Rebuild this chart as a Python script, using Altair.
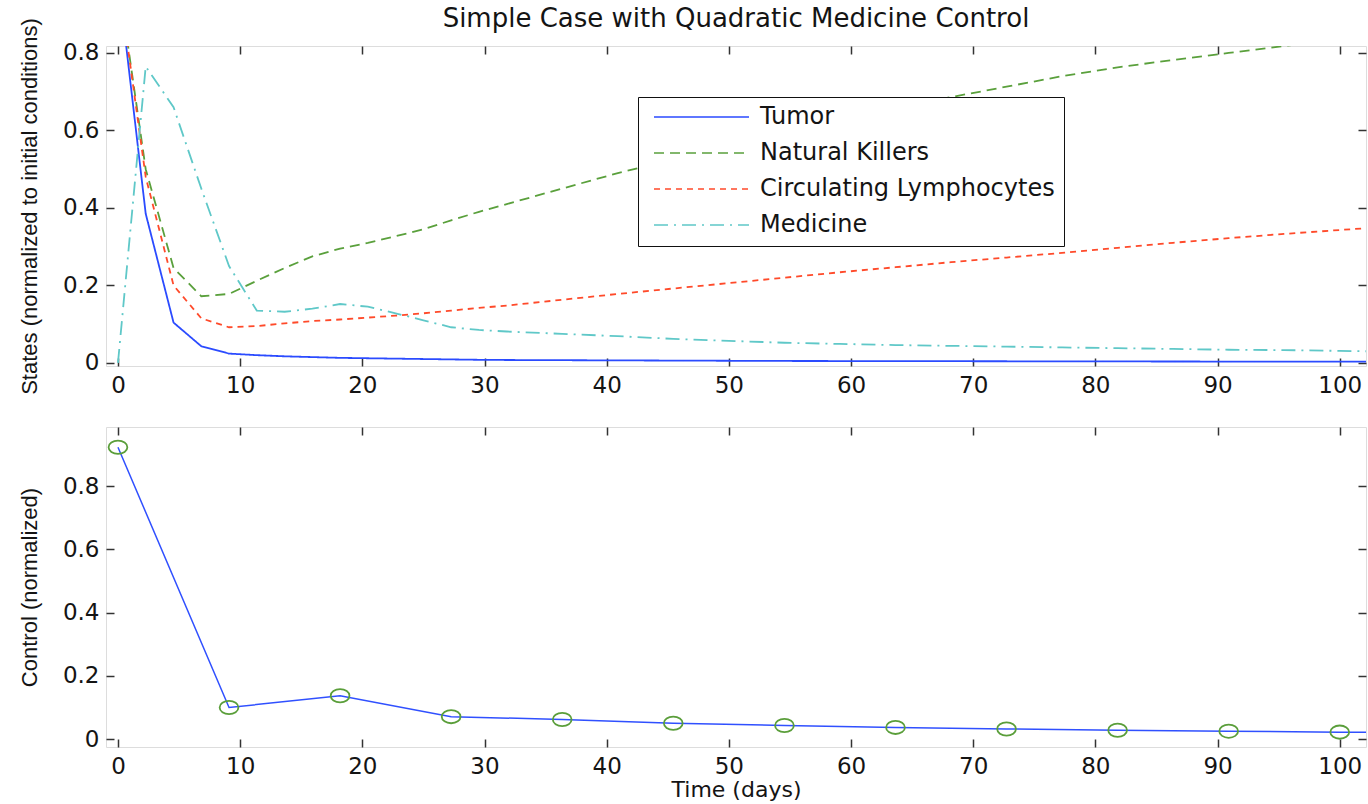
import altair as alt
import pandas as pd

# ---- state trajectories (normalized to initial conditions) ----
state_days = [0.0, 2.27, 4.55, 6.82, 9.09, 11.36, 13.64, 15.91, 18.18, 20.45,
              22.73, 25.0, 27.27, 29.55, 31.82, 36.36, 40.91, 45.45, 50.0, 54.55,
              59.09, 63.64, 68.18, 72.73, 77.27, 81.82, 86.36, 90.91, 95.45, 100.0,
              102.27]
tumor = [1.0, 0.385, 0.104, 0.043, 0.024, 0.020, 0.017, 0.015, 0.013, 0.012,
         0.011, 0.010, 0.009, 0.008, 0.0075, 0.007, 0.0065, 0.006, 0.0055, 0.005,
         0.0048, 0.0046, 0.0044, 0.0042, 0.004, 0.0038, 0.0036, 0.0035, 0.0034, 0.0033,
         0.0032]
natural_killers = [1.0, 0.50, 0.245, 0.172, 0.178, 0.212, 0.245, 0.275, 0.295, 0.31,
                   0.327, 0.345, 0.368, 0.39, 0.41, 0.45, 0.49, 0.525, 0.56, 0.595,
                   0.627, 0.658, 0.686, 0.713, 0.74, 0.763, 0.782, 0.80, 0.818, 0.835,
                   0.843]
lymphocytes = [1.0, 0.48, 0.20, 0.115, 0.092, 0.095, 0.102, 0.108, 0.112, 0.117,
               0.122, 0.128, 0.135, 0.142, 0.148, 0.163, 0.178, 0.192, 0.206, 0.22,
               0.234, 0.247, 0.26, 0.272, 0.284, 0.297, 0.31, 0.322, 0.333, 0.343,
               0.348]
medicine = [0.0, 0.765, 0.66, 0.45, 0.25, 0.135, 0.132, 0.14, 0.152, 0.145,
            0.128, 0.11, 0.092, 0.085, 0.081, 0.075, 0.069, 0.062, 0.057, 0.052,
            0.049, 0.046, 0.044, 0.042, 0.040, 0.038, 0.036, 0.034, 0.033, 0.031,
            0.030]

series_names = ["Tumor", "Natural Killers", "Circulating Lymphocytes", "Medicine"]
series_colors = ["#2b4bff", "#5aa03c", "#ff4a2a", "#5fc8c8"]
series_dashes = [[1, 0], [10, 6], [6, 5], [14, 6, 2, 6]]

# ---- control schedule ----
control_days = [0.0, 9.09, 18.18, 27.27, 36.36, 45.45, 54.55, 63.64, 72.73,
                81.82, 90.91, 100.0]
control = [0.923, 0.100, 0.137, 0.071, 0.062, 0.050, 0.043, 0.037, 0.032,
           0.028, 0.025, 0.022]
control_line_days = control_days + [102.27]
control_line = control + [0.0215]

x_ticks = list(range(0, 101, 10))
y_ticks = [0, 0.2, 0.4, 0.6, 0.8]

AX = "#333333"
TXT = "#141414"
FONT_H = "DejaVu Sans"
FONT_V = "Liberation Sans"

states = pd.DataFrame(
    [
        {"day": t, "value": v, "series": name}
        for name, vals in zip(series_names, [tumor, natural_killers, lymphocytes, medicine])
        for t, v in zip(state_days, vals)
    ]
)
ctrl_line = pd.DataFrame({"day": control_line_days, "value": control_line})
ctrl_pts = pd.DataFrame({"day": control_days, "value": control})

x_scale = alt.Scale(domain=[-0.98, 102.15], nice=False, zero=False)
y_scale_top = alt.Scale(domain=[-0.008, 0.818], nice=False, zero=False)
y_scale_bot = alt.Scale(domain=[-0.025, 0.987], nice=False, zero=False)

tick_style = dict(grid=False, domain=False, offset=-8, tickSize=8,
                  tickColor=AX, tickWidth=1.5)


def x_axis(title=None):
    kw = dict(orient="bottom", values=x_ticks, labelFont=FONT_H, labelFontSize=23,
              labelColor=TXT, labelPadding=8, labelFlush=False, labelOverlap=False,
              **tick_style)
    if title is not None:
        kw.update(title=title, titleFont=FONT_H, titleFontSize=22,
                  titleFontWeight="normal", titleColor=TXT, titlePadding=1)
    else:
        kw.update(title=None)
    return alt.Axis(**kw)


def y_axis(title):
    return alt.Axis(orient="left", values=y_ticks, format="~g", title=title,
                    labelFont=FONT_H, labelFontSize=23, labelColor=TXT,
                    labelPadding=7, labelFlush=False, labelOverlap=False,
                    titleFont=FONT_V, titleFontSize=22, titleFontWeight="normal",
                    titleColor=TXT, titlePadding=21, **tick_style)


x_axis_top = alt.Axis(orient="top", values=x_ticks, labels=False, title=None, **tick_style)
y_axis_right = alt.Axis(orient="right", values=y_ticks, labels=False, title=None, **tick_style)

legend = alt.Legend(
    title=None, orient="none", legendX=532, legendY=51, direction="vertical",
    symbolType="stroke", symbolSize=9025, symbolStrokeWidth=1.6, clipHeight=22,
    symbolOffset=6,
    labelFont=FONT_H, labelFontSize=24, labelColor=TXT, labelOffset=10,
    labelLimit=700, rowPadding=12, padding=9, strokeColor="#111111",
    fillColor="white", cornerRadius=0,
)

lines = alt.Chart(states).mark_line(clip=True, strokeWidth=1.8).encode(
    x=alt.X("day:Q", scale=x_scale, axis=x_axis()),
    y=alt.Y("value:Q", scale=y_scale_top, axis=y_axis("States (normalized to initial conditions)")),
    color=alt.Color("series:N", sort=series_names,
                    scale=alt.Scale(domain=series_names, range=series_colors), legend=legend),
    strokeDash=alt.StrokeDash("series:N", sort=series_names,
                              scale=alt.Scale(domain=series_names, range=series_dashes),
                              legend=legend),
)

frame_top = alt.Chart(states).mark_point(opacity=0, clip=True).encode(
    x=alt.X("day:Q", scale=x_scale, axis=x_axis_top),
    y=alt.Y("value:Q", scale=y_scale_top, axis=y_axis_right),
)

top = alt.layer(lines, frame_top).resolve_axis(x="independent", y="independent").properties(
    width=1260, height=320,
    title=alt.TitleParams("Simple Case with Quadratic Medicine Control", font=FONT_H,
                          fontSize=26, fontWeight="normal", color=TXT, anchor="middle",
                          frame="group", offset=-14),
)

ctrl = alt.Chart(ctrl_line).mark_line(clip=True, strokeWidth=1.5, color="#3050ff").encode(
    x=alt.X("day:Q", scale=x_scale, axis=x_axis("Time (days)")),
    y=alt.Y("value:Q", scale=y_scale_bot, axis=y_axis("Control (normalized)")),
)

ellipse = "M-1.42,0 A1.42,1 0 1,0 1.42,0 A1.42,1 0 1,0 -1.42,0 Z"
ctrl_marks = alt.Chart(ctrl_pts).mark_point(
    shape=ellipse, filled=False, color="#5a9e3a", size=175, strokeWidth=1.8, opacity=1
).encode(
    x=alt.X("day:Q", scale=x_scale, axis=None),
    y=alt.Y("value:Q", scale=y_scale_bot, axis=None),
)

frame_bot = alt.Chart(ctrl_pts).mark_point(opacity=0, clip=True).encode(
    x=alt.X("day:Q", scale=x_scale, axis=x_axis_top),
    y=alt.Y("value:Q", scale=y_scale_bot, axis=y_axis_right),
)

bottom = alt.layer(ctrl, ctrl_marks, frame_bot).resolve_axis(
    x="independent", y="independent"
).properties(width=1260, height=320)

chart = alt.vconcat(top, bottom, spacing=27).properties(
    padding={"left": 17, "top": 5, "right": 0, "bottom": 0}
).configure_view(stroke=AX, strokeWidth=1.5).configure(background="white")

chart.save("out.html", embed_options={"renderer": "svg", "actions": False})
